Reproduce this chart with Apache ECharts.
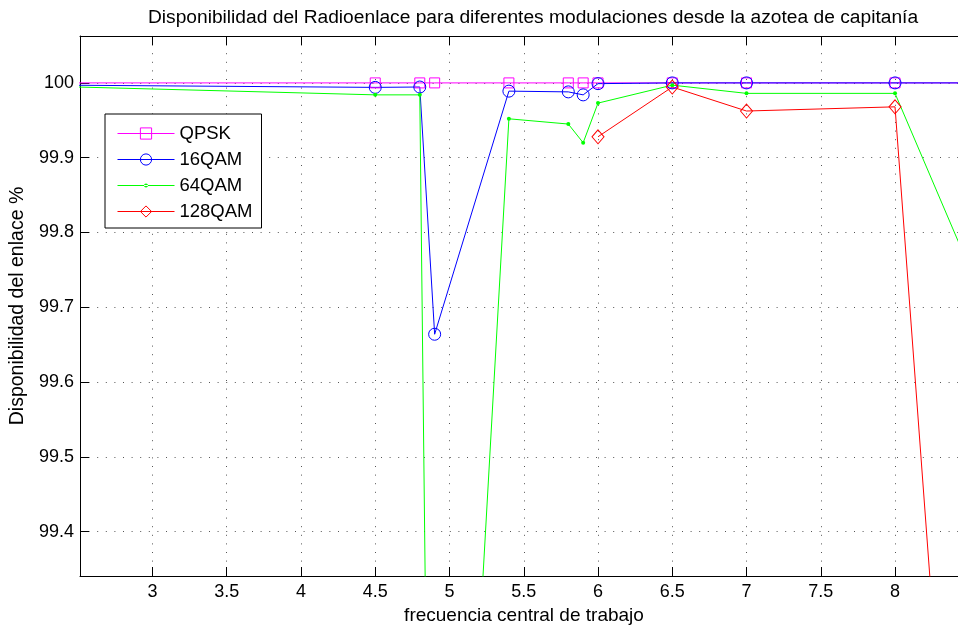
<!DOCTYPE html>
<html>
<head>
<meta charset="utf-8">
<script src="https://cdn.jsdelivr.net/npm/echarts@6/dist/echarts.min.js"></script>
<style>
html,body{margin:0;padding:0;background:#fff;}
#chart{width:958px;height:626px;}
</style>
</head>
<body>
<div id="chart"></div>
<script>
// ---- data ----
const freqs  = [2.4, 4.5, 4.8, 4.9, 5.4, 5.8, 5.9, 6.0, 6.5, 7.0, 8.0, 10.0];
const qpsk   = [100, 100, 100, 100, 100, 100, 100, 100, 100, 100, 100, 100];
const qam16  = [99.997, 99.994, 99.9945, 99.664, 99.989, 99.988, 99.984, 99.999, 100, 100, 100, 100];
const qam64  = [99.995, 99.984, 99.984, 98.2, 99.952, 99.945, 99.920, 99.973, 99.997, 99.986, 99.986, 99.056];
const qam128 = [null, null, null, null, null, null, null, 99.928, 99.9945, 99.9624, 99.968, 94.61];
const seriesNames = ['QPSK', '16QAM', '64QAM', '128QAM'];
const titleText = 'Disponibilidad del Radioenlace para diferentes modulaciones desde la azotea de capitanía';
const xName = 'frecuencia central de trabajo';
const yName = 'Disponibilidad del enlace %';

function pairs(vals) {
  const out = [];
  for (let i = 0; i < freqs.length; i++) {
    if (vals[i] !== null) out.push([freqs[i], vals[i]]);
  }
  return out;
}

const FONT = 'Liberation Sans, Arial, Helvetica, sans-serif';
const X_MIN = 2.512, X_MAX = 8.424;
const Y_MIN = 99.3408, Y_MAX = 100.0627;
const COLORS = ['#ff00ff', '#0000ff', '#00ff00', '#ff0000'];

const gridLine = { show: true, lineStyle: { color: '#555', width: 1, type: [1, 7.6] } };

function mkSeries(name, vals, symbol, size, color, hollow) {
  return {
    type: 'line',
    name: name,
    data: pairs(vals),
    symbol: symbol,
    symbolSize: size,
    showAllSymbol: true,
    clip: true,
    animation: false,
    color: color,
    lineStyle: { color: color, width: 1 },
    itemStyle: hollow
      ? { color: 'rgba(0,0,0,0)', borderColor: color, borderWidth: 1 }
      : { color: color, borderWidth: 0 },
    emphasis: { disabled: true }
  };
}

const chart = echarts.init(document.getElementById('chart'), null, { renderer: 'canvas' });
chart.setOption({
  backgroundColor: '#fff',
  animation: false,
  title: {
    text: titleText,
    left: 528,
    top: 3,
    textAlign: 'center',
    textStyle: { fontFamily: FONT, fontSize: 19.2, fontWeight: 'normal', color: '#000' }
  },
  grid: { left: 80, right: 0, top: 36, bottom: 50, containLabel: false, outerBoundsMode: 'none' },
  legend: {
    orient: 'vertical',
    left: 105,
    top: 114,
    padding: [10, 9, 7, 12],
    itemWidth: 57,
    itemHeight: 14,
    itemGap: 7,
    borderColor: '#000',
    borderWidth: 1,
    backgroundColor: '#fff',
    selectedMode: false,
    textStyle: { fontFamily: FONT, fontSize: 18.5, color: '#000' },
    itemStyle: { borderWidth: 1 },
    lineStyle: { width: 1 },
    data: [
      { name: 'QPSK', lineStyle: { color: COLORS[0], width: 1 } },
      { name: '16QAM', lineStyle: { color: COLORS[1], width: 1 } },
      { name: '64QAM',
        icon: 'path://M0,0h0.01v0.01h-0.01z M0,6.5h57v1h-57z M26.5,7a2,2 0 1,0 4,0a2,2 0 1,0 -4,0z M56.99,13.99h0.01v0.01h-0.01z',
        itemStyle: { borderWidth: 0, color: COLORS[2] } },
      { name: '128QAM', lineStyle: { color: COLORS[3], width: 1 } }
    ]
  },
  xAxis: [
    {
      type: 'value',
      min: X_MIN, max: X_MAX,
      splitNumber: 12,
      position: 'bottom',
      name: xName,
      nameLocation: 'middle',
      nameGap: 28,
      nameTextStyle: { fontFamily: FONT, fontSize: 19, color: '#000', padding: [0, 0, 0, 10] },
      axisLine: { show: true, onZero: false, lineStyle: { color: '#000', width: 1 } },
      axisTick: { show: true, inside: true, length: 9, lineStyle: { color: '#000' } },
      axisLabel: { show: true, margin: 7, fontFamily: FONT, fontSize: 18, color: '#000', showMinLabel: false, showMaxLabel: false },
      splitLine: gridLine
    },
    {
      type: 'value',
      min: X_MIN, max: X_MAX,
      splitNumber: 12,
      position: 'top',
      axisLine: { show: true, onZero: false, lineStyle: { color: '#000', width: 1 } },
      axisTick: { show: true, inside: true, length: 9, lineStyle: { color: '#000' } },
      axisLabel: { show: false },
      splitLine: { show: false }
    }
  ],
  yAxis: {
    type: 'value',
    min: Y_MIN, max: Y_MAX,
    splitNumber: 7,
    name: yName,
    nameLocation: 'middle',
    nameGap: 49,
    nameTextStyle: { fontFamily: FONT, fontSize: 19.5, color: '#000' },
    axisLine: { show: true, onZero: false, lineStyle: { color: '#000', width: 1 } },
    axisTick: { show: true, inside: true, length: 9, lineStyle: { color: '#000' } },
    axisLabel: { show: true, margin: 6, fontFamily: FONT, fontSize: 18, color: '#000', showMinLabel: false, showMaxLabel: false },
    splitLine: gridLine
  },
  series: [
    mkSeries(seriesNames[0], qpsk, 'rect', 10, COLORS[0], true),
    mkSeries(seriesNames[1], qam16, 'circle', 12, COLORS[1], true),
    mkSeries(seriesNames[2], qam64, 'circle', 4, COLORS[2], false),
    mkSeries(seriesNames[3], qam128, 'diamond', [12, 14], COLORS[3], true)
  ]
});
</script>
</body>
</html>
